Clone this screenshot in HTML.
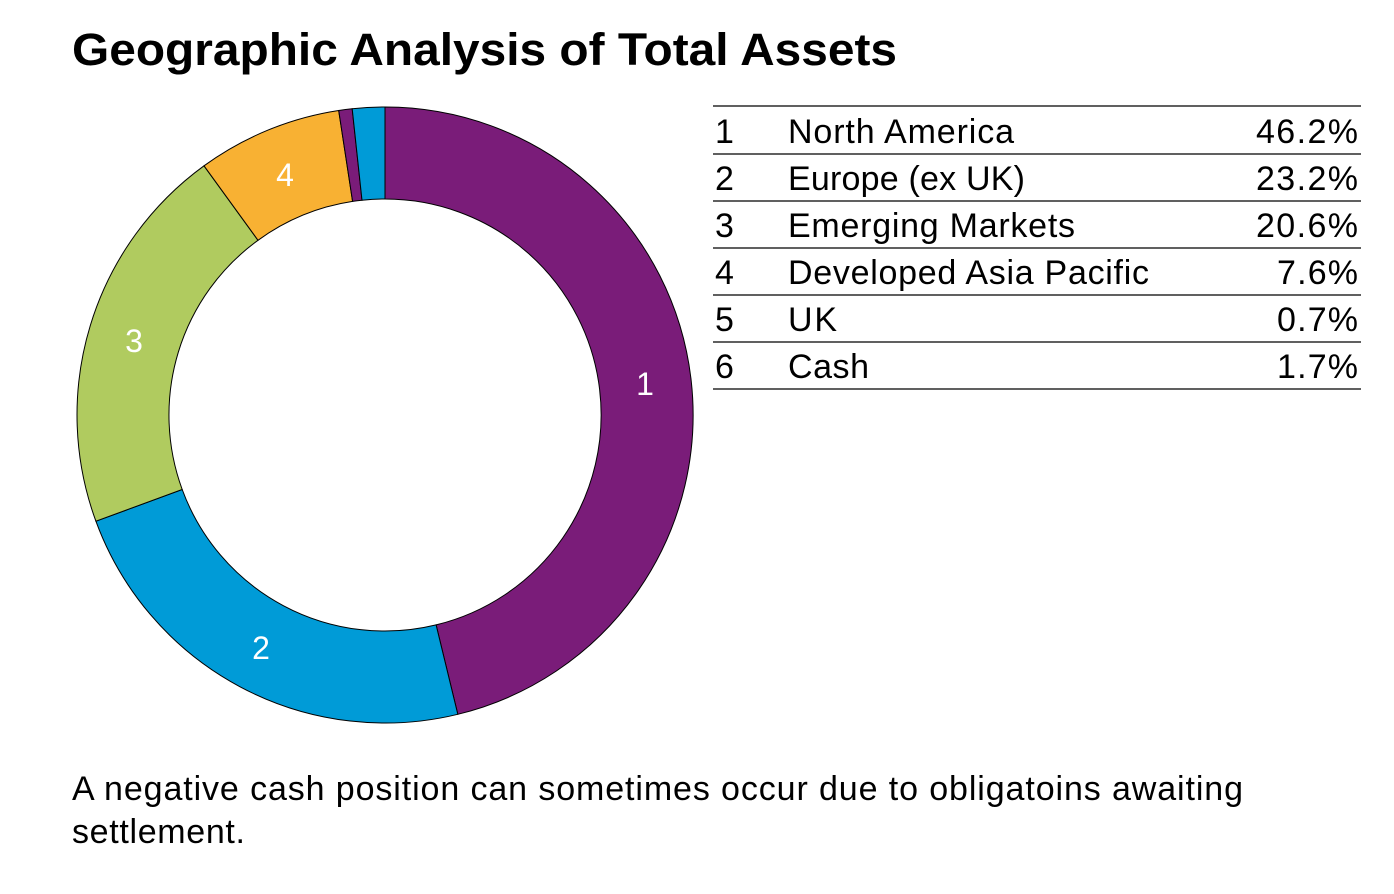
<!DOCTYPE html>
<html><head><meta charset="utf-8"><style>
body{margin:0;width:1394px;height:894px;background:#fff;font-family:"Liberation Sans",Arial,sans-serif;color:#000;position:relative;overflow:hidden}
</style></head><body>
<svg width="1394" height="894" style="position:absolute;left:0;top:0">
<text x="72" y="65" font-size="45" font-weight="bold" font-family="Liberation Sans,Arial,sans-serif" textLength="825" lengthAdjust="spacingAndGlyphs">Geographic Analysis of Total Assets</text>
<g stroke="#000" stroke-width="1">
<path d="M385,107 A308,308 0 0 1 457.8,714.3 L436.1,624.9 A216,216 0 0 0 385,199 Z" fill="#7a1c79"/>
<path d="M457.8,714.3 A308,308 0 0 1 95.9,521.2 L182.2,489.5 A216,216 0 0 0 436.1,624.9 Z" fill="#009bd7"/>
<path d="M95.9,521.2 A308,308 0 0 1 204,165.8 L258,240.3 A216,216 0 0 0 182.2,489.5 Z" fill="#b0cb5f"/>
<path d="M204,165.8 A308,308 0 0 1 338.7,110.5 L352.6,201.4 A216,216 0 0 0 258,240.3 Z" fill="#f8b133"/>
<path d="M338.7,110.5 A308,308 0 0 1 352.2,108.8 L362,200.2 A216,216 0 0 0 352.6,201.4 Z" fill="#7a1c79"/>
<path d="M352.2,108.8 A308,308 0 0 1 385,107 L385,199 A216,216 0 0 0 362,200.2 Z" fill="#009bd7"/>
</g>
<g fill="#fff" font-size="32" font-family="Liberation Sans,Arial,sans-serif" text-anchor="middle">
<text x="645" y="395">1</text><text x="261" y="659">2</text><text x="134" y="352">3</text><text x="285" y="186">4</text>
</g>
<g stroke="#000" stroke-width="1.3">
<line x1="713" y1="106" x2="1361" y2="106"/><line x1="713" y1="154" x2="1361" y2="154"/>
<line x1="713" y1="201" x2="1361" y2="201"/><line x1="713" y1="248" x2="1361" y2="248"/>
<line x1="713" y1="295" x2="1361" y2="295"/><line x1="713" y1="342" x2="1361" y2="342"/>
<line x1="713" y1="389" x2="1361" y2="389"/>
</g>
<g font-size="34" font-family="Liberation Sans,Arial,sans-serif" lengthAdjust="spacingAndGlyphs">
<text x="715" y="143">1</text><text x="788" y="143" textLength="226">North America</text><text x="1256" y="143" textLength="102">46.2%</text>
<text x="715" y="190">2</text><text x="788" y="190" textLength="237">Europe (ex UK)</text><text x="1256" y="190" textLength="102">23.2%</text>
<text x="715" y="237">3</text><text x="788" y="237" textLength="287">Emerging Markets</text><text x="1256" y="237" textLength="102">20.6%</text>
<text x="715" y="284">4</text><text x="788" y="284" textLength="361">Developed Asia Pacific</text><text x="1277" y="284" textLength="81">7.6%</text>
<text x="715" y="331">5</text><text x="788" y="331" textLength="49">UK</text><text x="1277" y="331" textLength="81">0.7%</text>
<text x="715" y="378">6</text><text x="788" y="378" textLength="81">Cash</text><text x="1277" y="378" textLength="81">1.7%</text>
</g>
<g font-size="34" font-family="Liberation Sans,Arial,sans-serif" lengthAdjust="spacingAndGlyphs">
<text x="72" y="800" textLength="1171">A negative cash position can sometimes occur due to obligatoins awaiting</text>
<text x="72" y="843" textLength="173">settlement.</text>
</g>
</svg>
</body></html>
